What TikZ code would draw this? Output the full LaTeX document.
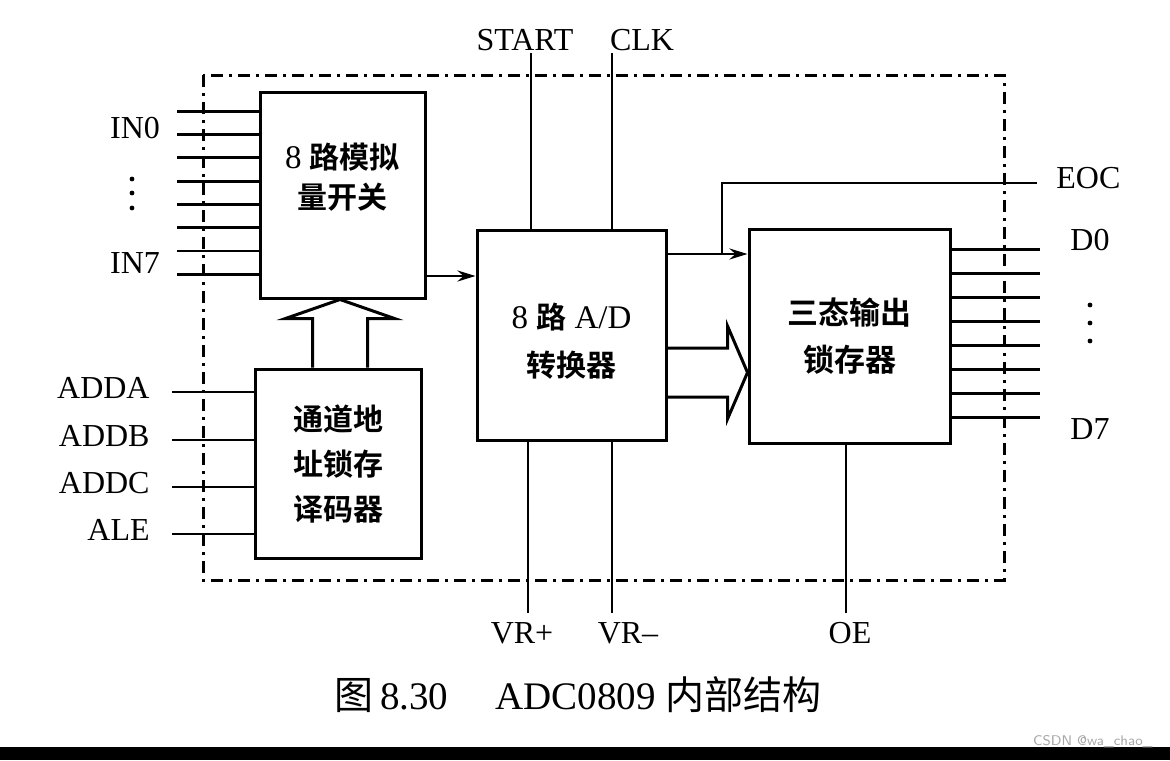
\documentclass[tikz,border=0pt]{standalone}
\usepackage{fontspec}
\setmainfont{Liberation Serif}
\newfontfamily\cjk{Noto Sans CJK SC}[BoldFont={* Bold}]
\usetikzlibrary{arrows.meta,calc,positioning}

\begin{document}
\begin{tikzpicture}[
    x=0.5pt, y=-0.5pt,
    box/.style={rectangle, draw, line width=1.5pt, align=center, font=\fontsize{16.5}{23}\selectfont},
    boxtxt/.style={align=center, inner sep=0pt, font=\fontsize{16.5}{20}\selectfont},
    sig/.style={line width=1.4pt},
    arrow/.style={sig, -{Stealth[length=9pt,width=5.5pt,inset=3pt]}},
    bus/.style={line width=1.5pt, line join=miter},
    frame/.style={line width=1.5pt, dash pattern=on 6pt off 3pt on 1.5pt off 3pt},
    lbl/.style={font=\fontsize{16}{18}\selectfont, inner sep=0pt},
    dot/.style={circle, fill, inner sep=0pt, minimum size=2.4pt}
]
\useasboundingbox (0,0) rectangle (1170,760);
\fill[black] (0,747) rectangle (1170,760);

% blocks
\node[box, minimum width=82.5pt, minimum height=103pt] (mux) at (342.5,195) {};
\node[boxtxt] (muxtxt) at ([yshift=9pt]mux.center) {8 {\cjk\bfseries\fontsize{15}{20}\selectfont 路模拟}\\{\cjk\bfseries\fontsize{15}{20}\selectfont 量开关}};
\node[box, minimum width=83pt, minimum height=94.5pt, font=\fontsize{15}{22.5}\selectfont] (dec) at (338,463.5)
    {\cjk\bfseries 通道地\\\cjk\bfseries 址锁存\\\cjk\bfseries 译码器};
\node[box, minimum width=94.5pt, minimum height=105pt] (adc) at (571.5,335) {};
\node[boxtxt, font=\fontsize{16.5}{24}\selectfont] (adctxt) at ([yshift=-3pt]adc.center)
    {8 {\cjk\bfseries\fontsize{15}{24}\selectfont 路} A/D\\{\cjk\bfseries\fontsize{15}{24}\selectfont 转换器}};
\node[box, minimum width=100.5pt, minimum height=107pt, font=\fontsize{15.5}{23.5}\selectfont] (latch) at (849.5,336)
    {\cjk\bfseries 三态输出\\\cjk\bfseries 锁存器};

% dash-dot chip outline
\draw[frame] (203,75) rectangle (1004,580);

% analog inputs
\foreach \i in {0,...,7}
  \draw[sig] ($(mux.north west)+(0,20.7+23.3*\i)$) -- ++(-82,0);
\node[lbl] (in0) at (135,128) {IN0};
\node[lbl] (in7) at (135,263) {IN7};
\foreach \y in {179,193,208}
  \node[dot] (indot\y) at (132,\y) {};

% address inputs
\foreach \y/\t [count=\k] in {392/ADDA,440/ADDB,487/ADDC,534/ALE} {
  \coordinate (a\k) at (172,\y);
  \node[lbl, anchor=east] (la\k) at (150,\y-4) {\t};
  \draw[sig] (a\k) -- (a\k -| dec.west);
}

% hollow arrow decoder -> switch
\coordinate (upc) at ($(dec.north)+(2,0)$);
\coordinate (uptip) at (upc |- mux.south);
\draw[bus] ($(upc)+(-27.5,0)$) -- ($(uptip)+(-27.5,19)$) -- ($(uptip)+(-54.5,19)$) -- (uptip)
    -- ($(uptip)+(54.5,19)$) -- ($(uptip)+(27.5,19)$) -- ($(upc)+(27.5,0)$);

% switch -> converter
\draw[arrow] (mux.east |- 0,276) -- (adc.west |- 0,276);

% START, CLK
\coordinate (startpin) at (531,53);
\draw[sig] (startpin) -- (startpin |- adc.north);
\node[lbl] (lstart) at (525,40) {START};
\coordinate (clkpin) at (612,53);
\draw[sig] (clkpin) -- (clkpin |- adc.north);
\node[lbl] (lclk) at (642,40) {CLK};

% VR+, VR-, OE
\coordinate (vrppin) at (528,613);
\draw[sig] (vrppin |- adc.south) -- (vrppin);
\node[lbl] (lvrp) at (522,633) {VR+};
\coordinate (vrmpin) at (612,613);
\draw[sig] (vrmpin |- adc.south) -- (vrmpin);
\node[lbl] (lvrm) at (628,633) {VR--};
\coordinate (oepin) at (846,613);
\draw[sig] (oepin |- latch.south) -- (oepin);
\node[lbl] (loe) at (850,633) {OE};

% EOC
\draw[arrow] (adc.east |- 0,254) -- (latch.west |- 0,254);
\coordinate (eocbr) at (722,254);
\coordinate (eocpin) at (1037,183);
\draw[sig] (eocbr) |- (eocpin);
\node[lbl, anchor=west] (leoc) at (1056,178) {EOC};

% hollow arrow converter -> latch
\coordinate (rc) at (adc.east |- 0,372.5);
\coordinate (rtip) at (latch.west |- rc);
\draw[bus] ($(rc)+(0,-24.5)$) -- ($(rtip)+(-20,-24.5)$) -- ($(rtip)+(-20,-46.5)$) -- (rtip)
    -- ($(rtip)+(-20,46.5)$) -- ($(rtip)+(-20,24.5)$) -- ($(rc)+(0,24.5)$);

% data outputs
\foreach \i in {0,...,7}
  \draw[sig] ($(latch.north east)+(0,21.7+24*\i)$) -- ++(88,0);
\node[lbl] (ld0) at (1090,240) {D0};
\node[lbl] (ld7) at (1090,429) {D7};
\foreach \y in {305,323,341}
  \node[dot] (ddot\y) at (1090,\y) {};

% caption
\node[font=\fontsize{19.5}{22}\selectfont, inner sep=0pt] (caption) at (578,695)
    {{\cjk 图}\,8.30\hspace{1.2em}ADC0809\ {\cjk 内部结构}};
\node[font=\sffamily\fontsize{7}{8}\selectfont, text=gray!70, anchor=east, inner sep=0pt] (mark) at (1153,742) {CSDN @wa\_chao\_};
\end{tikzpicture}
\end{document}
